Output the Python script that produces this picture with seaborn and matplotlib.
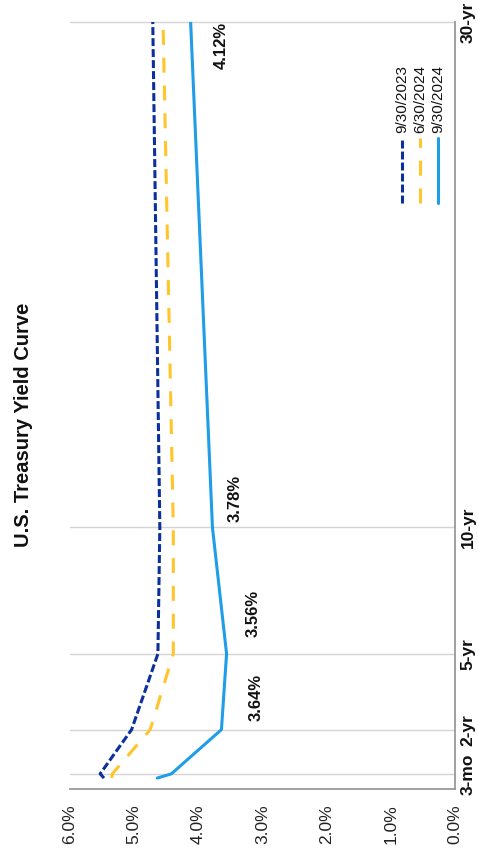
import numpy as np
import pandas as pd
import matplotlib
matplotlib.use("Agg")
import matplotlib.pyplot as plt
import seaborn as sns

# ---- data ----
maturity_years = [1/12, 0.25, 2, 5, 10, 30]
tick_years = [0.25, 2, 5, 10, 30]
tick_labels = ["3-mo", "2-yr", "5-yr", "10-yr", "30-yr"]
series_names = ["9/30/2023", "6/30/2024", "9/30/2024"]
y_2023_09 = [5.47, 5.53, 5.04, 4.63, 4.60, 4.71]
y_2024_06 = [5.35, 5.34, 4.75, 4.39, 4.39, 4.55]
y_2024_09 = [4.64, 4.42, 3.64, 3.56, 3.78, 4.12]
yield_ticks = [6, 5, 4, 3, 2, 1, 0]
colors = {"9/30/2023": "#0b2f9c", "6/30/2024": "#ffc52b", "9/30/2024": "#1f9de6"}

rows = []
for name, vals in zip(series_names, [y_2023_09, y_2024_06, y_2024_09]):
    for m, v in zip(maturity_years, vals):
        rows.append({"series": name, "maturity": m, "yield": v})
df = pd.DataFrame(rows)

sns.set_style("white")
plt.rcParams["font.family"] = ["Liberation Sans", "DejaVu Sans"]

fig = plt.figure(figsize=(4.78, 8.57), dpi=100)
ax = fig.add_axes([70/478, 68/857, 385/478, 767/857])

lw = 2.2
dashes = {"9/30/2023": (2.6, 1.0), "6/30/2024": (4.9, 4.2), "9/30/2024": ""}
sns.lineplot(data=df, x="yield", y="maturity", hue="series", style="series",
             palette=colors, dashes=dashes, orient="y", sort=False,
             linewidth=lw, legend=False, ax=ax, zorder=3)

ax.set_xlim(6, 0)
ax.set_ylim(-0.35, 30)

# gridlines at maturities
for t in tick_years:
    ax.axhline(t, color="#d4d4d4", lw=1.0, zorder=1, clip_on=False)

for s in ["left", "top"]:
    ax.spines[s].set_visible(False)
for s in ["bottom", "right"]:
    ax.spines[s].set_color("#9a9a9a")
    ax.spines[s].set_linewidth(1.3)

ax.set_xticks(yield_ticks)
ax.set_xticklabels([f"{v:.1f}%" for v in yield_ticks], rotation=90, fontsize=12.5,
                   color="#222222")
ax.tick_params(axis="x", length=0, pad=11)
ax.yaxis.tick_right()
ax.set_yticks(tick_years)
ax.set_yticklabels(tick_labels, rotation=90, fontsize=12.5, fontweight="bold",
                   va="center", color="#111111")
ax.tick_params(axis="y", length=0, pad=4)
ax.set_xlabel("")
ax.set_ylabel("")

# data labels for 9/30/2024
label_idx = [2, 3, 4, 5]
offsets = [(25, 23), (19, 29), (16, 21), (22, -17)]
for i, off in zip(label_idx, offsets):
    v = y_2024_09[i]
    ax.annotate(f"{v:.2f}%", xy=(v, maturity_years[i]), xytext=off,
                textcoords="offset points", rotation=90, fontsize=12,
                fontweight="bold", ha="center", va="center", color="#111111")

# legend drawn rotated
leg_x = [0.862, 0.909, 0.956]
for name, lx in zip(series_names, leg_x):
    st = dashes[name]
    ls = (0, st) if st else "-"
    ax.plot([lx, lx], [0.764, 0.849], transform=ax.transAxes, color=colors[name],
            lw=lw, linestyle=ls, clip_on=False, zorder=4)
    ax.text(lx, 0.855, name, transform=ax.transAxes, rotation=90,
            rotation_mode="anchor", ha="left", va="center", fontsize=11,
            color="#111111")

fig.text(24/478, (857-425)/857, "U.S. Treasury Yield Curve", rotation=90,
         ha="center", va="center", fontsize=14.5, fontweight="bold", color="#111111")

fig.savefig("out.png", dpi=100)
